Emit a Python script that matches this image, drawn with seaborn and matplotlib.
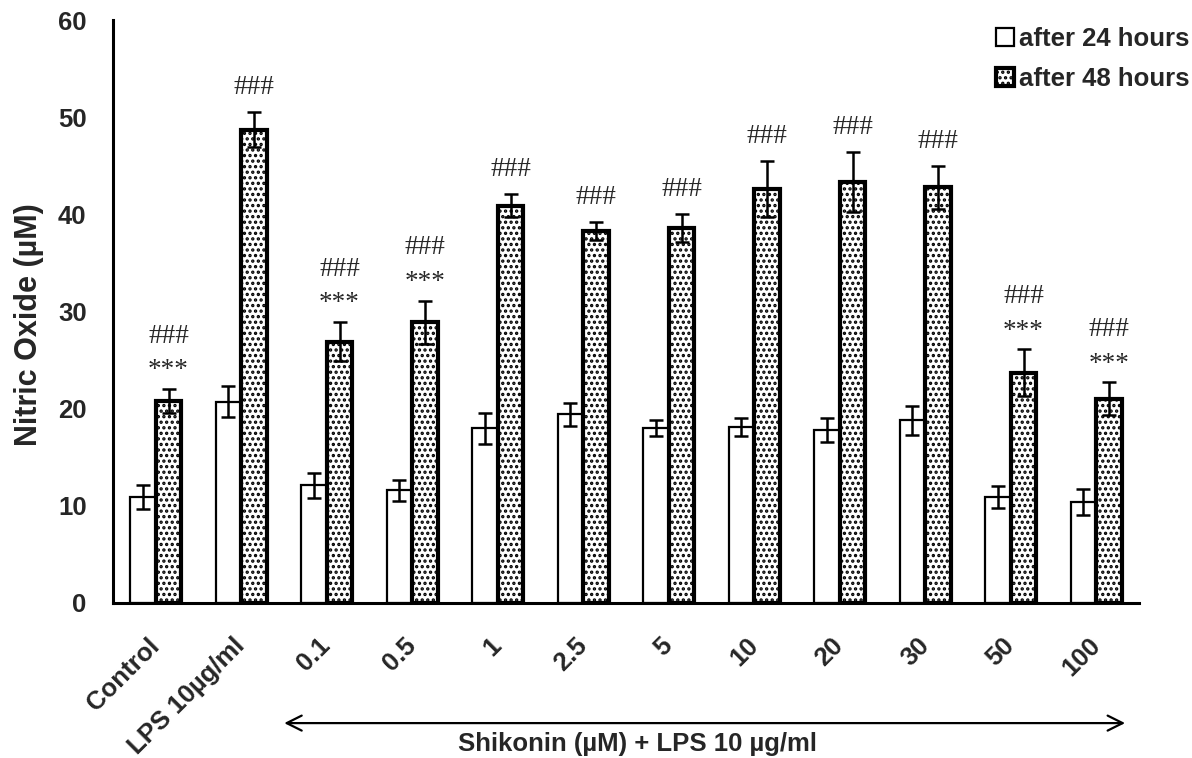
import numpy as np
import pandas as pd
import matplotlib
matplotlib.use("Agg")
import matplotlib.pyplot as plt
import seaborn as sns

# ---- data ----
categories = ['Control', 'LPS 10µg/ml', '0.1', '0.5', '1', '2.5', '5', '10', '20', '30', '50', '100']
series_names = ['after 24 hours', 'after 48 hours']
no_24h = [10.9, 20.7, 12.1, 11.6, 18.0, 19.4, 18.0, 18.1, 17.8, 18.8, 10.9, 10.4]
no_24h_err = [1.2, 1.6, 1.3, 1.1, 1.6, 1.2, 0.85, 0.9, 1.2, 1.5, 1.15, 1.3]
no_48h = [20.8, 48.7, 26.9, 28.9, 40.9, 38.3, 38.6, 42.6, 43.3, 42.8, 23.7, 21.0]
no_48h_err = [1.2, 1.8, 2.0, 2.2, 1.2, 0.9, 1.4, 2.9, 3.1, 2.2, 2.4, 1.7]
hash_marks = ['###'] * 12
star_marks = ['***', '', '***', '***', '', '', '', '', '', '', '***', '***']
ylabel = 'Nitric Oxide (µM)'
xlabel = 'Shikonin (µM) + LPS 10 µg/ml'
y_ticks = [0, 10, 20, 30, 40, 50, 60]

df = pd.DataFrame({
    'cat': categories * 2,
    'val': no_24h + no_48h,
    'err': no_24h_err + no_48h_err,
    'time': [series_names[0]] * len(categories) + [series_names[1]] * len(categories),
})

sns.set_theme(style='white')
plt.rcParams['font.family'] = ['Liberation Sans', 'DejaVu Sans']
plt.rcParams['hatch.linewidth'] = 1.6
plt.rcParams['hatch.color'] = 'black'

fig = plt.figure(figsize=(11.92, 7.58), dpi=100)
ax = fig.add_axes([113 / 1192, 1 - 603 / 758, (1139 - 113) / 1192, (603 - 20) / 758])

sns.barplot(data=df, x='cat', y='val', hue='time', order=categories, hue_order=series_names,
            palette={series_names[0]: 'white', series_names[1]: 'white'},
            edgecolor='black', width=0.6, errorbar=None, legend=False, ax=ax, zorder=2)

bar_containers = list(ax.containers)
for p in bar_containers[0]:
    p.set_linewidth(1.6)
    p.set_edgecolor('black')
for p in bar_containers[1]:
    p.set_linewidth(3.0)
    p.set_edgecolor('black')
    p.set_hatch('...')

# error bars centred on each bar
for cont, vals, errs in zip(bar_containers, [no_24h, no_48h], [no_24h_err, no_48h_err]):
    xs = [p.get_x() + p.get_width() / 2 for p in cont]
    ax.errorbar(xs, vals, yerr=errs, fmt='none', ecolor='black', elinewidth=1.8,
                capsize=5, capthick=1.8, zorder=3)

# significance marks above the 48h bars
for p, v, e, hs, st in zip(bar_containers[1], no_48h, no_48h_err, hash_marks, star_marks):
    xc = p.get_x() + p.get_width() / 2
    top = v + e
    if st:
        ax.annotate(st, xy=(xc, top), xytext=(0, 8.5), textcoords='offset points',
                    ha='center', va='baseline', fontsize=19.5, family='Liberation Serif')
        ax.annotate(hs, xy=(xc, top), xytext=(0, 33.5), textcoords='offset points',
                    ha='center', va='baseline', fontsize=19.5, family='Liberation Serif')
    else:
        ax.annotate(hs, xy=(xc, top), xytext=(0, 13), textcoords='offset points',
                    ha='center', va='baseline', fontsize=19.5, family='Liberation Serif')

# axes styling
ax.set_ylim(0, 60)
ax.set_xlim(-0.5, len(categories) - 0.5)
ax.set_yticks(y_ticks)
ax.set_yticklabels([str(t) for t in y_ticks], fontsize=18.5, fontweight='bold')
ax.set_xticks(range(len(categories)))
ax.set_xticklabels(categories, fontsize=18.5, fontweight='bold', rotation=45,
                   ha='right', va='center', rotation_mode='anchor')
ax.set_xticks(np.arange(-0.5, len(categories), 1.0), minor=True)
ax.tick_params(axis='x', which='major', length=0, pad=28)
ax.tick_params(axis='x', which='minor', length=6, width=1.8, direction='out', color='black')
ax.tick_params(axis='y', which='major', length=6, width=1.8, direction='out', color='black', pad=13)
ax.set_xlabel('')
ax.set_ylabel(ylabel, fontsize=22, fontweight='bold')
ax.yaxis.set_label_coords(-0.067, 0.477)
for s in ['top', 'right']:
    ax.spines[s].set_visible(False)
for s in ['left', 'bottom']:
    ax.spines[s].set_color('black')
    ax.spines[s].set_linewidth(2.2)
ax.grid(False)

# double-headed arrow and group label under the axis
trans = ax.get_xaxis_transform()
ax.annotate('', xy=(1.47, -0.206), xytext=(11.37, -0.206), xycoords=trans, textcoords=trans,
            arrowprops=dict(arrowstyle='<->,head_length=0.9,head_width=0.45', color='black', lw=1.6),
            annotation_clip=False)
ax.text(5.63, -0.242, xlabel, transform=trans, ha='center', va='center',
        fontsize=18.5, fontweight='bold')

# legend top-right of figure
fig.legend(handles=[bar_containers[0][0], bar_containers[1][0]], labels=series_names,
           loc='upper right', bbox_to_anchor=(1.0, 0.968), frameon=False,
           prop={'weight': 'bold', 'size': 18.5}, handlelength=0.7, handleheight=0.7,
           handletextpad=0.2, labelspacing=0.62, borderaxespad=0.0, borderpad=0.1)

fig.savefig('out.png', dpi=100)
